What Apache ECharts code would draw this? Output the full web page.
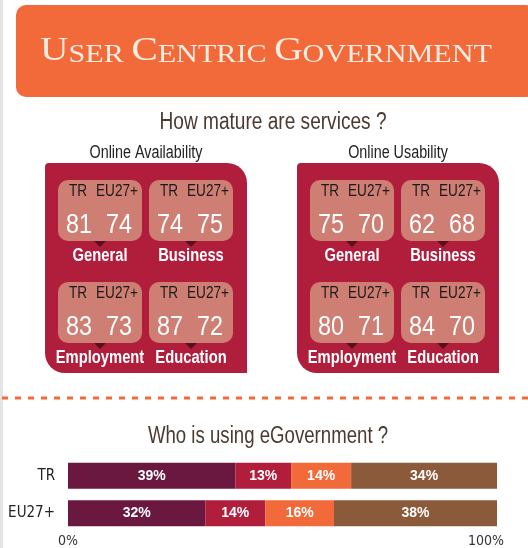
<!DOCTYPE html>
<html>
<head>
<meta charset="utf-8">
<script src="https://cdn.jsdelivr.net/npm/echarts@6/dist/echarts.min.js"></script>
<style>body{margin:0;background:#fff}</style>
</head>
<body>
<div id="main" style="width:528px;height:548px;"></div>
<script>
// --- data ---
var services = ['General', 'Business', 'Employment', 'Education'];
var availTR = [81, 74, 83, 87];
var availEU = [74, 75, 73, 72];
var usabTR = [75, 62, 80, 84];
var usabEU = [70, 68, 71, 70];
var userGroups = ['TR', 'EU27+'];
var seg1 = [39, 32];
var seg2 = [13, 14];
var seg3 = [14, 16];
var seg4 = [34, 38];
var axisTicks = ['0%', '100%'];

var SANS = "'Liberation Sans', Arial, sans-serif";
var COND = "'DejaVu Sans Condensed', 'Liberation Sans', sans-serif";
var ORANGE = '#f26a3a', CRIMSON = '#b01e3c', PURPLE = '#6b1840', BROWN = '#8b5a3a';

// title in small caps
var titleWords = ['User', 'Centric', 'Government'];
var titleRich = titleWords.map(function (w) {
  return '{b|' + w[0].toUpperCase() + '}{s|' + w.slice(1).toUpperCase() + '}';
}).join('{s| }');

// text squeezed horizontally to look like a condensed face
function txt(x, y, text, size, color, weight, sx) {
  return {
    type: 'text', x: x, y: y, scaleX: sx || 0.82, silent: true,
    style: {
      text: text, fill: color, fontSize: size, fontWeight: weight || 'normal',
      fontFamily: SANS,
      align: 'center', verticalAlign: 'middle',
      textAlign: 'center', textVerticalAlign: 'middle'
    }
  };
}

var g = [];
g.push({ type: 'rect', shape: { x: 0, y: 0, width: 3, height: 548 }, style: { fill: '#e4e4e4' } });
g.push({ type: 'rect', shape: { x: 16, y: 5, width: 520, height: 92, r: 10 }, style: { fill: ORANGE } });
g.push({
  type: 'text', x: 266, y: 51, scaleX: 1.16,
  style: {
    text: titleRich, fill: '#fbece2',
    align: 'center', verticalAlign: 'middle', textAlign: 'center', textVerticalAlign: 'middle',
    rich: {
      b: { fontSize: 34, fontFamily: "'Liberation Serif', serif", color: '#fbece2', verticalAlign: 'bottom', lineHeight: 34 },
      s: { fontSize: 26, fontFamily: "'Liberation Serif', serif", color: '#fbece2', verticalAlign: 'bottom', lineHeight: 26 }
    }
  }
});
g.push(txt(273, 123, 'How mature are services ?', 23, '#4a3a30', 'normal', 0.83));

var panels = [
  { x: 45, title: 'Online Availability', tr: availTR, eu: availEU },
  { x: 297, title: 'Online Usability', tr: usabTR, eu: usabEU }
];
panels.forEach(function (p) {
  g.push(txt(p.x + 101, 153, p.title, 17.5, '#222'));
  g.push({ type: 'rect', shape: { x: p.x, y: 163, width: 202, height: 210, r: [4, 20, 0, 20] }, style: { fill: CRIMSON } });
  services.forEach(function (s, i) {
    var tx = p.x + 13 + (i % 2) * 91;
    var ty = i < 2 ? 180 : 282;
    var cx = tx + 42;
    g.push({ type: 'rect', shape: { x: tx, y: ty, width: 84, height: 61, r: 10 }, style: { fill: '#cf7e74' } });
    g.push(txt(cx - 22, ty + 12, 'TR', 16, '#1a1a1a', 'normal', 0.85));
    g.push(txt(cx + 17, ty + 12, 'EU27+', 16, '#1a1a1a', 'normal', 0.85));
    g.push(txt(cx - 21, ty + 45, String(p.tr[i]), 28.5, '#ffffff'));
    g.push(txt(cx + 19, ty + 45, String(p.eu[i]), 28.5, '#ffffff'));
    g.push({ type: 'polygon', shape: { points: [[cx - 6, ty + 61], [cx + 6, ty + 61], [cx, ty + 67]] }, style: { fill: '#5a0f1f' } });
    g.push(txt(cx, ty + 76, s, 18, '#ffffff', 'bold'));
  });
});
g.push({ type: 'line', shape: { x1: 2, y1: 398, x2: 528, y2: 398 }, style: { stroke: ORANGE, lineWidth: 3, lineDash: [6, 7] } });
g.push(txt(268, 437, 'Who is using eGovernment ?', 23, '#4a3a30', 'normal', 0.81));

function barSeries(name, data, color) {
  return {
    name: name, type: 'bar', stack: 'all', data: data, barWidth: 26,
    itemStyle: { color: color },
    label: { show: true, position: 'inside', formatter: '{c}%', color: '#fff', fontWeight: 'bold', fontSize: 14, fontFamily: SANS }
  };
}

var chart = echarts.init(document.getElementById('main'));
chart.setOption({
  animation: false,
  graphic: g,
  grid: { left: 68, right: 31, top: 457, height: 80 },
  xAxis: {
    type: 'value', min: 0, max: 100, interval: 100,
    splitLine: { show: false }, axisLine: { show: false }, axisTick: { show: false },
    axisLabel: {
      color: '#333', margin: 2,
      formatter: function (v) { return v === 0 ? '{a|' + axisTicks[0] + '}' : '{b|' + axisTicks[1] + '}'; },
      rich: { a: { fontSize: 14, fontFamily: COND, color: '#333' }, b: { fontSize: 14, fontFamily: COND, color: '#333', padding: [0, 22, 0, 0] } }
    }
  },
  yAxis: {
    type: 'category', data: userGroups, inverse: true,
    axisLine: { show: false }, axisTick: { show: false },
    axisLabel: { color: '#222', fontSize: 15, fontFamily: COND, margin: 13 }
  },
  series: [
    barSeries('s1', seg1, PURPLE),
    barSeries('s2', seg2, CRIMSON),
    barSeries('s3', seg3, ORANGE),
    barSeries('s4', seg4, BROWN)
  ]
});
</script>
</body>
</html>
